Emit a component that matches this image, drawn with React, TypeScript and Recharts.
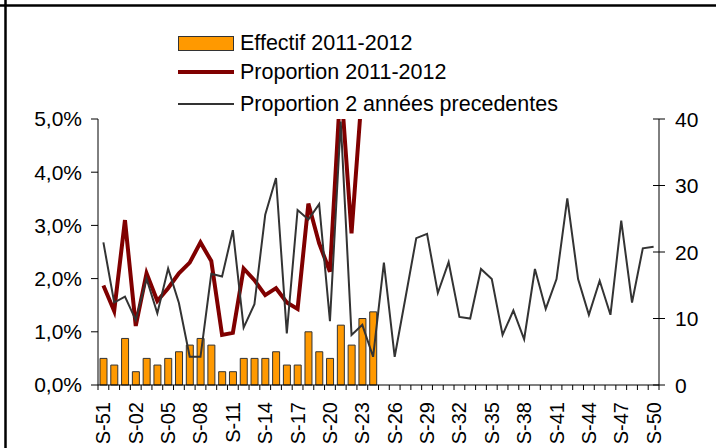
import React from "react"
import { Bar, ComposedChart, Line, XAxis, YAxis } from "recharts"

const weeks = [
  "S-51", "S-52", "S-01", "S-02", "S-03", "S-04", "S-05", "S-06", "S-07", "S-08",
  "S-09", "S-10", "S-11", "S-12", "S-13", "S-14", "S-15", "S-16", "S-17", "S-18",
  "S-19", "S-20", "S-21", "S-22", "S-23", "S-24", "S-25", "S-26", "S-27", "S-28",
  "S-29", "S-30", "S-31", "S-32", "S-33", "S-34", "S-35", "S-36", "S-37", "S-38",
  "S-39", "S-40", "S-41", "S-42", "S-43", "S-44", "S-45", "S-46", "S-47", "S-48",
  "S-49", "S-50",
]

// effectif 2011-2012 (right axis)
const effectif = [4, 3, 7, 2, 4, 3, 4, 5, 6, 7, 6, 2, 2, 4, 4, 4, 5, 3, 3, 8, 5, 4, 9, 6, 10, 11]

// proportion 2011-2012, in %
const proportion2012 = [
  1.87, 1.39, 3.1, 1.11, 2.1, 1.58, 1.82, 2.1, 2.3, 2.68, 2.33, 0.94, 0.98,
  2.19, 1.97, 1.69, 1.82, 1.55, 1.43, 3.41, 2.66, 2.13, 5.7, 2.85, 5.6, 6.2,
]

// proportion 2 années precedentes, in %
const proportionPrev = [
  2.68, 1.55, 1.66, 1.22, 2.0, 1.35, 2.19, 1.54, 0.53, 0.53,
  2.09, 2.04, 2.91, 1.08, 1.52, 3.2, 3.89, 0.97, 3.29, 3.11,
  3.4, 1.2, 4.95, 0.94, 1.13, 0.53, 2.3, 0.53, 1.64, 2.76,
  2.84, 1.73, 2.31, 1.28, 1.25, 2.18, 1.99, 0.94, 1.4, 0.86,
  2.18, 1.43, 1.99, 3.51, 1.99, 1.32, 1.96, 1.32, 3.09, 1.55,
  2.57, 2.6,
]

const leftTicks = [0, 1, 2, 3, 4, 5]
const rightTicks = [0, 10, 20, 30, 40]

const data = weeks.map((week, i) => ({
  week,
  effectif: effectif[i] ?? null,
  p2012: proportion2012[i] ?? null,
  prev: proportionPrev[i] ?? null,
}))

const W = 716
const H = 448
const LEFT_W = 98
const RIGHT_W = 57
const TOP = 119
const X_H = 63
const band = (W - LEFT_W - RIGHT_W) / weeks.length
const font = "'Liberation Sans', Arial, sans-serif"

const fmtPct = (v: number) => `${v.toFixed(1).replace(".", ",")}%`

function WeekTick(props: any) {
  const { x, y, payload, index } = props
  const last = index === weeks.length - 1
  return (
    <g>
      <line x1={x - band / 2} x2={x - band / 2} y1={y} y2={y + 5} stroke="#000" />
      {last && <line x1={x + band / 2} x2={x + band / 2} y1={y} y2={y + 5} stroke="#000" />}
      {index % 3 === 0 && (
        <text
          x={x}
          y={y + 17}
          transform={`rotate(-90, ${x}, ${y + 17})`}
          textAnchor="end"
          dominantBaseline="central"
          fontSize={20}
          fontFamily={font}
          fill="#000"
        >
          {payload.value}
        </text>
      )}
    </g>
  )
}

function RightTick(props: any) {
  const { x, y, payload } = props
  return (
    <g>
      <line x1={x - 6} x2={x + 6} y1={y} y2={y} stroke="#000" />
      <text x={x + 16} y={y} dominantBaseline="central" fontSize={21} fontFamily={font} fill="#000">
        {payload.value}
      </text>
    </g>
  )
}

function LegendRow({ top, swatch, label }: { top: number; swatch: React.ReactNode; label: string }) {
  return (
    <div style={{ position: "absolute", left: 178, top: top - 12, height: 24, display: "flex", alignItems: "center" }}>
      <div style={{ width: 56, display: "flex", alignItems: "center" }}>{swatch}</div>
      <span style={{ marginLeft: 6, fontSize: 21.5, fontFamily: font, lineHeight: "24px", whiteSpace: "nowrap" }}>{label}</span>
    </div>
  )
}

export default function App() {
  return (
    <div style={{ position: "absolute", left: 0, top: 0, width: W, height: H, background: "#fff", overflow: "hidden" }}>
      <ComposedChart
        width={W}
        height={H}
        data={data}
        margin={{ top: TOP, right: 0, bottom: 0, left: 0 }}
        style={{ position: "absolute", left: 0, top: 0 }}
      >
        <XAxis
          dataKey="week"
          interval={0}
          height={X_H}
          tickSize={0}
          tickMargin={0}
          tickLine={false}
          axisLine={{ stroke: "#000" }}
          tick={<WeekTick />}
        />
        <YAxis
          yAxisId="left"
          orientation="left"
          width={LEFT_W}
          domain={[0, 5]}
          ticks={leftTicks}
          allowDataOverflow
          tickFormatter={fmtPct}
          tickSize={7}
          tickMargin={9}
          axisLine={{ stroke: "#000" }}
          tickLine={{ stroke: "#000" }}
          tick={{ fontSize: 21, fontFamily: font, fill: "#000" }}
        />
        <YAxis
          yAxisId="right"
          orientation="right"
          width={RIGHT_W}
          domain={[0, 40]}
          ticks={rightTicks}
          tickSize={0}
          tickMargin={0}
          tickLine={false}
          axisLine={{ stroke: "#000" }}
          tick={<RightTick />}
        />
        <Bar
          yAxisId="right"
          dataKey="effectif"
          barSize={7}
          fill="#FF9900"
          stroke="#333"
          strokeWidth={1}
          isAnimationActive={false}
        />
        <Line
          yAxisId="left"
          dataKey="p2012"
          stroke="#800000"
          strokeWidth={4}
          dot={false}
          isAnimationActive={false}
        />
        <Line
          yAxisId="left"
          dataKey="prev"
          stroke="#333"
          strokeWidth={2}
          dot={false}
          isAnimationActive={false}
        />
      </ComposedChart>

      <LegendRow
        top={43}
        label="Effectif 2011-2012"
        swatch={<div style={{ width: 54, height: 13, background: "#FF9900", border: "1px solid #333" }} />}
      />
      <LegendRow top={72} label="Proportion 2011-2012" swatch={<div style={{ width: 56, height: 4, background: "#800000" }} />} />
      <LegendRow top={104} label="Proportion 2 années precedentes" swatch={<div style={{ width: 56, height: 2, background: "#333" }} />} />

      {/* outer frame (top and left edges of the original box) */}
      <svg width={W} height={H} style={{ position: "absolute", left: 0, top: 0, pointerEvents: "none" }}>
        <line x1={0} x2={W} y1={5.5} y2={5.5} stroke="#000" strokeWidth={2.5} />
        <line x1={5.5} x2={5.5} y1={0} y2={H} stroke="#000" strokeWidth={2.5} />
      </svg>
    </div>
  )
}
